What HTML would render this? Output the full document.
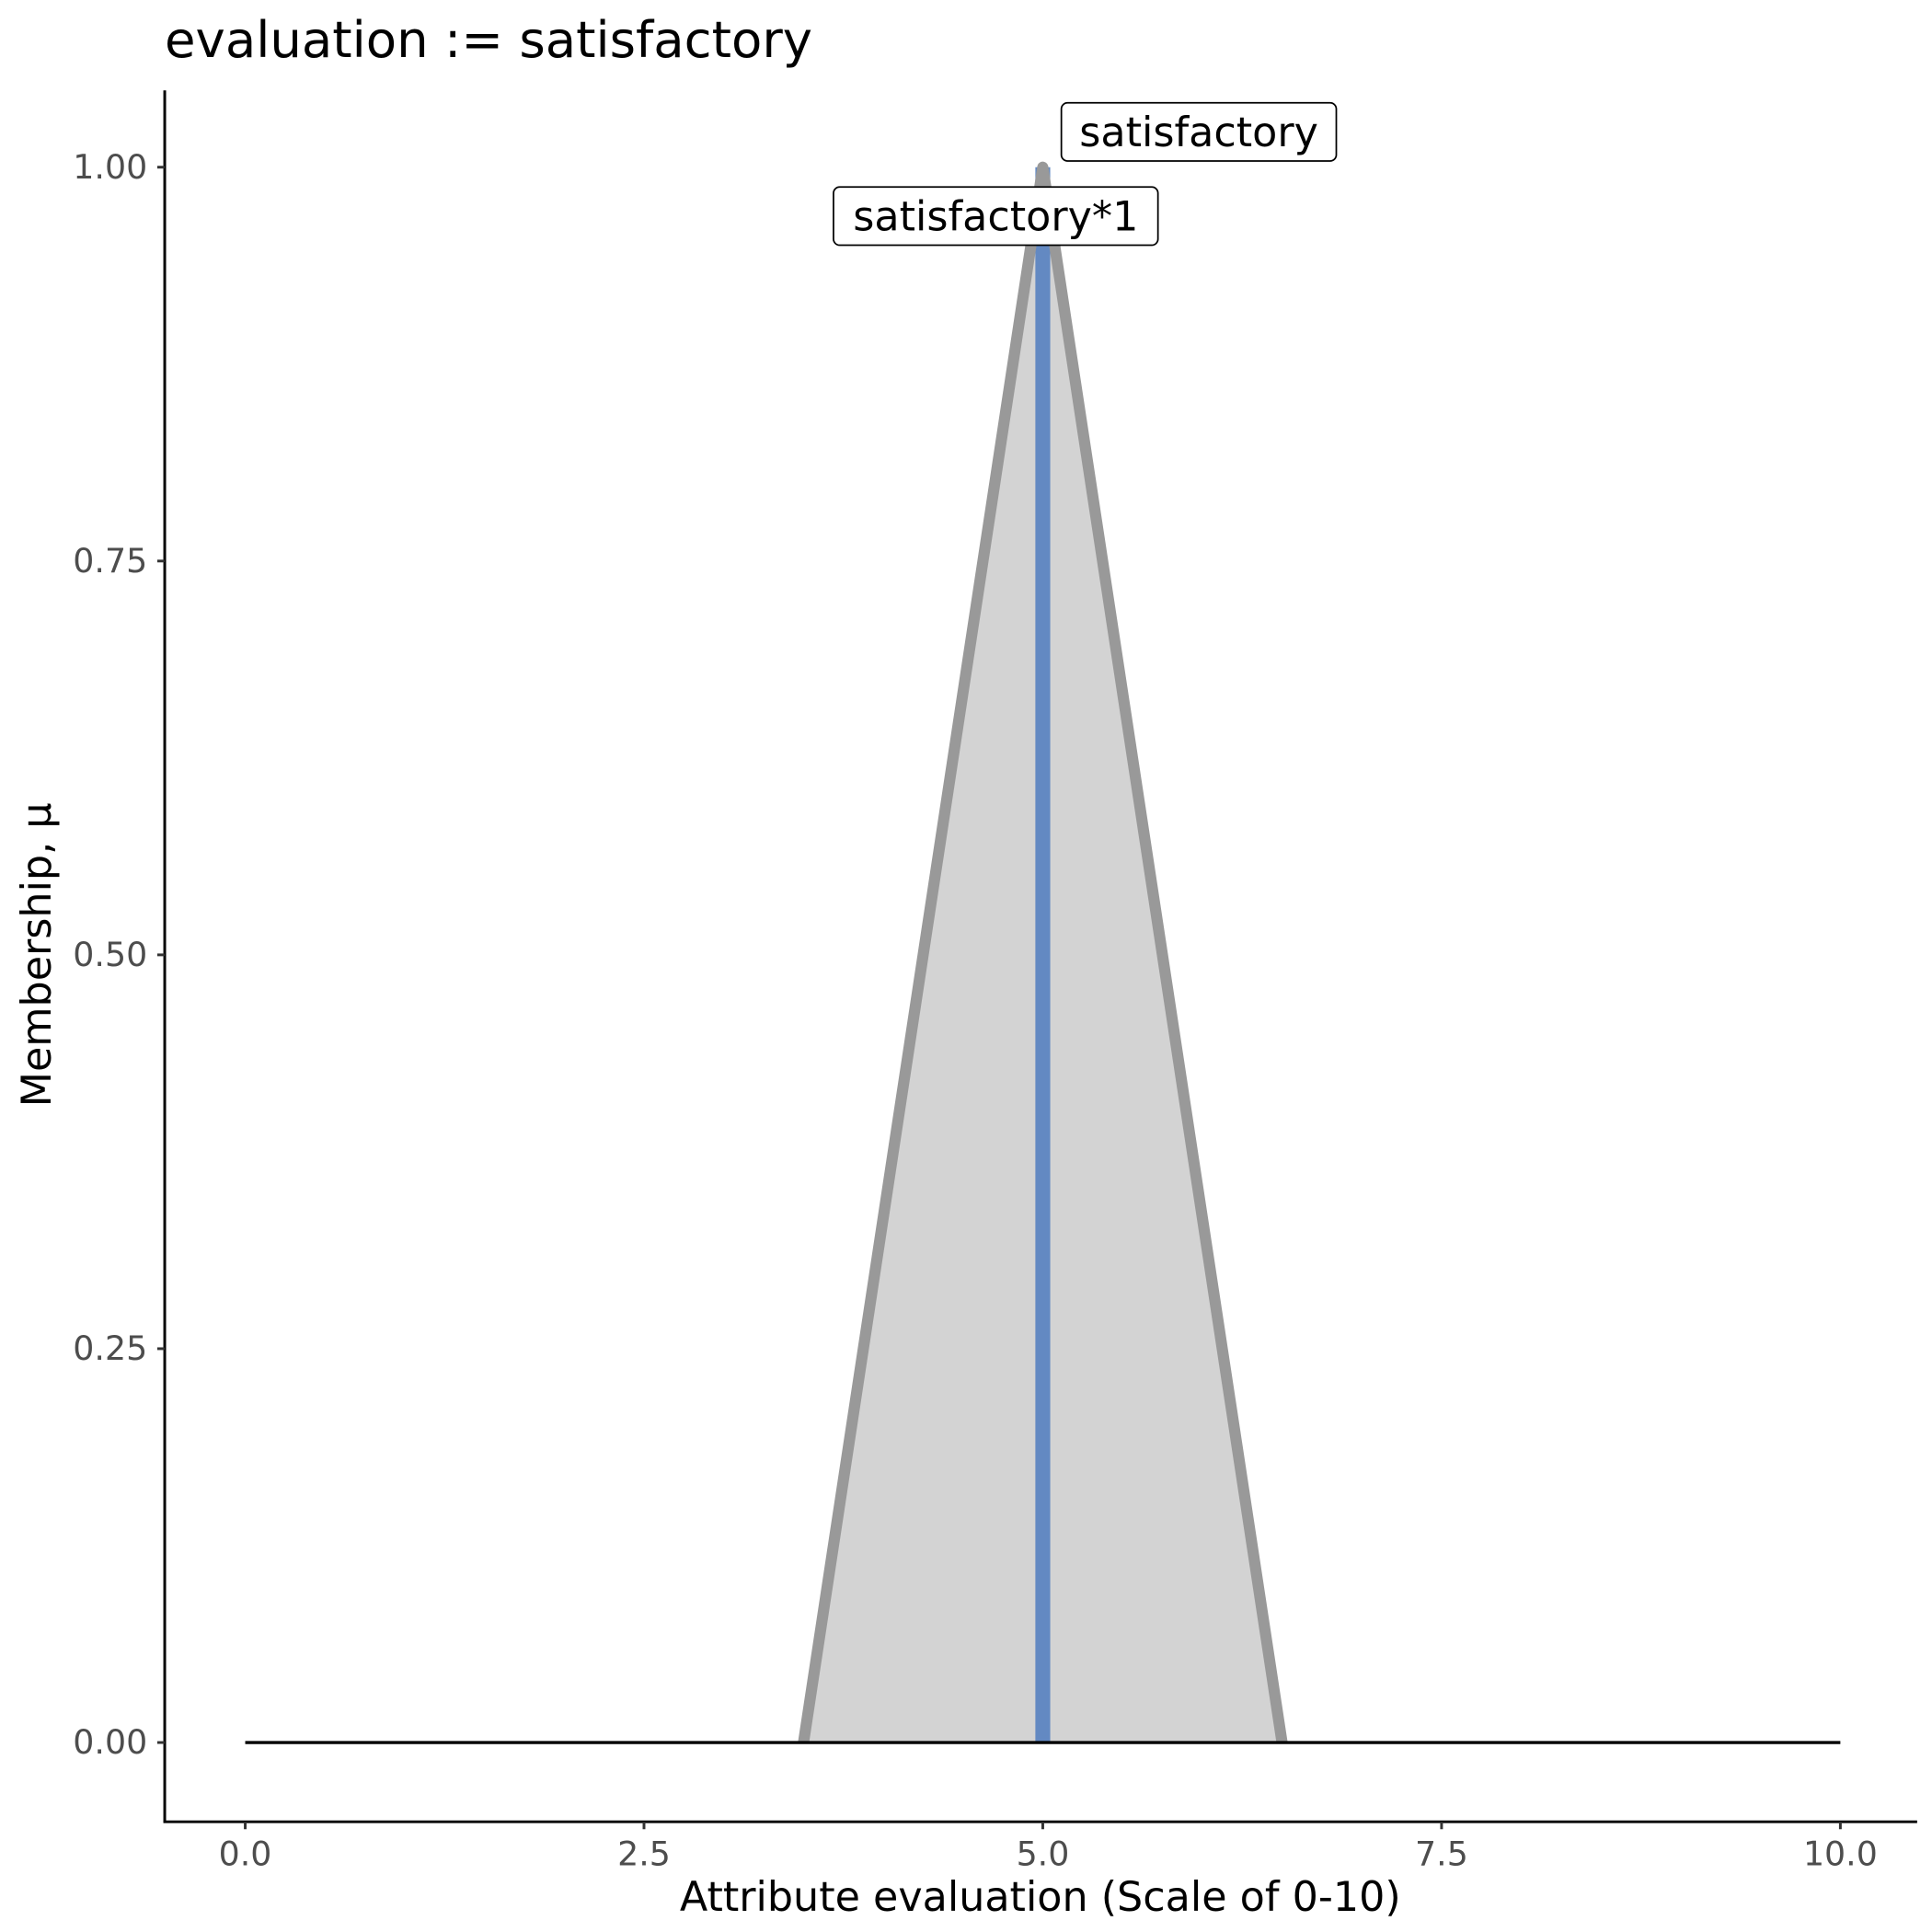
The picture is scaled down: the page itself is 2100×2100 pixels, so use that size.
<!DOCTYPE html>
<html><head><meta charset="utf-8"><style>html,body{margin:0;padding:0;background:#fff}svg{display:block}</style></head>
<body>
<svg width="2100" height="2100" viewBox="0 0 1560 1560" xmlns="http://www.w3.org/2000/svg" font-family="'DejaVu Sans','Liberation Sans',sans-serif">
<rect width="1560" height="1560" fill="#fff"/>
<text x="133" y="46" font-size="40.5" fill="#000">evaluation := satisfactory</text>
<polygon points="648.8,1407 842,135 1035.2,1407" fill="#d3d3d3"/>
<line x1="842" y1="1407" x2="842" y2="135" stroke="#6389c2" stroke-width="12"/>
<polyline points="648.8,1407 842,135 1035.2,1407" fill="none" stroke="#999" stroke-width="9" stroke-linejoin="round" stroke-linecap="butt"/>
<line x1="198" y1="1407" x2="1486" y2="1407" stroke="#000" stroke-width="2.5"/>
<rect x="857" y="83" width="222" height="47" rx="5" fill="#fff" stroke="#000" stroke-width="1.3"/>
<text x="968" y="118" font-size="33" text-anchor="middle">satisfactory</text>
<rect x="673" y="151" width="262" height="47" rx="5" fill="#fff" stroke="#000" stroke-width="1.3"/>
<text x="804" y="186" font-size="33" text-anchor="middle">satisfactory*1</text>
<g stroke="#000" stroke-width="2.2">
<line x1="133" y1="73" x2="133" y2="1472"/>
<line x1="132" y1="1471" x2="1548" y2="1471"/>
</g>
<g stroke="#333" stroke-width="2.2">
<line x1="127" y1="135" x2="133" y2="135"/><line x1="127" y1="453" x2="133" y2="453"/><line x1="127" y1="771" x2="133" y2="771"/><line x1="127" y1="1089" x2="133" y2="1089"/><line x1="127" y1="1407" x2="133" y2="1407"/>
<line x1="198" y1="1471" x2="198" y2="1477"/><line x1="520" y1="1471" x2="520" y2="1477"/><line x1="842" y1="1471" x2="842" y2="1477"/><line x1="1164" y1="1471" x2="1164" y2="1477"/><line x1="1486" y1="1471" x2="1486" y2="1477"/>
</g>
<g font-size="27" fill="#4d4d4d" text-anchor="end">
<text x="119" y="144">1.00</text><text x="119" y="462">0.75</text><text x="119" y="780">0.50</text><text x="119" y="1098">0.25</text><text x="119" y="1416">0.00</text>
</g>
<g font-size="27" fill="#4d4d4d" text-anchor="middle">
<text x="198" y="1506">0.0</text><text x="520" y="1506">2.5</text><text x="842" y="1506">5.0</text><text x="1164" y="1506">7.5</text><text x="1486" y="1506">10.0</text>
</g>
<text x="840" y="1543" font-size="33" text-anchor="middle">Attribute evaluation (Scale of 0-10)</text>
<text transform="translate(41,771) rotate(-90)" font-size="33" text-anchor="middle">Membership, μ</text>
</svg>
</body></html>
